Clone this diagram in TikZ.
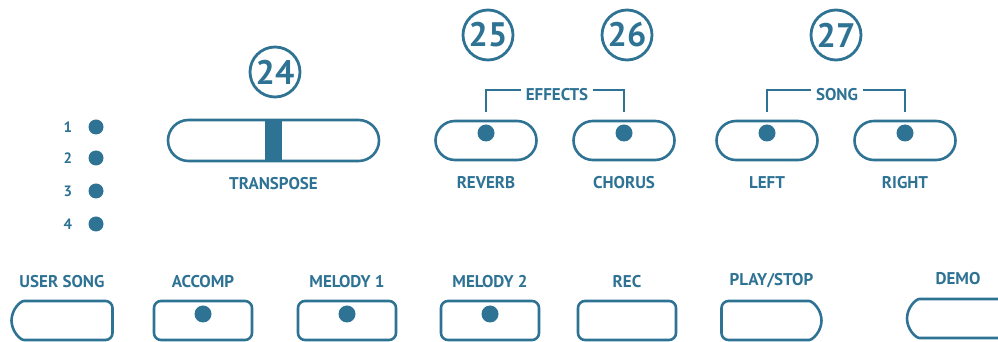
\documentclass[tikz,border=0pt]{standalone}
\usepackage{fontspec}
\setmainfont{PT Sans}
\usepackage{tikz}
\usetikzlibrary{shapes.misc, positioning, calc}
\definecolor{panel}{RGB}{46,114,148}

\begin{document}
\begin{tikzpicture}[x=1pt, y=1pt,
    num/.style={circle, draw=panel, line width=2.8pt, minimum size=50pt, inner sep=0pt, text=panel, font=\bfseries\fontsize{34}{34}\selectfont},
    pill/.style={rounded rectangle, draw=panel, line width=2.6pt, minimum width=101pt, minimum height=39pt, inner sep=0pt},
    keybox/.style={rectangle, rounded corners=7pt, draw=panel, line width=2.6pt, minimum width=98pt, minimum height=39pt, inner sep=0pt},
    led/.style={circle, fill=panel, minimum size=15pt, inner sep=0pt},
    lbl/.style={text=panel, font=\bfseries\fontsize{17}{17}\selectfont, inner sep=2pt},
    ledlbl/.style={text=panel, font=\bfseries\fontsize{15}{15}\selectfont, inner sep=1pt},
    bracket/.style={draw=panel, line width=2.2pt}
]
    \useasboundingbox (0,0) rectangle (998,342);

    % number badges
    \node [num] (n24) at (275,270) {24};
    \node [num] (n25) at (488,307) {25};
    \node [num] (n26) at (627,307) {26};
    \node [num] (n27) at (836,307) {27};

    % LED column
    \foreach \i/\y in {1/215, 2/184, 3/151, 4/118} {
        \node [led] (led\i) at (96,\y) {};
        \node [ledlbl] (ledlbl\i) at (68,\y) {\i};
    }

    % upper buttons
    \node [pill, minimum width=211pt, minimum height=41pt] (transpose) at (273.5,201.5) {};
    \fill [panel] ([xshift=-8.5pt]transpose.north) rectangle ([xshift=8.5pt]transpose.south);
    \node [pill] (reverb) at (486,201.5) {};
    \node [pill] (chorus) at (624,201.5) {};
    \node [pill] (left) at (767,201.5) {};
    \node [pill] (right) at (905,201.5) {};
    \foreach \b in {reverb, chorus, left, right}
        \node [led, minimum size=17pt] (\b dot) at ([yshift=7.5pt]\b.center) {};

    \node [lbl, below=13pt of transpose] (transposelbl) {TRANSPOSE};
    \node [lbl, below=13pt of reverb] (reverblbl) {REVERB};
    \node [lbl, below=13pt of chorus] (choruslbl) {CHORUS};
    \node [lbl, below=13pt of left] (leftlbl) {LEFT};
    \node [lbl, below=13pt of right] (rightlbl) {RIGHT};

    % group brackets
    \node [lbl, inner sep=5pt] (effects) at (557,247) {EFFECTS};
    \node [lbl, inner sep=5pt] (song) at (837,247) {SONG};
    \draw [bracket] ([yshift=8pt]reverb.north) |- ([yshift=5pt]effects.west);
    \draw [bracket] ([yshift=5pt]effects.east) -| ([yshift=8pt]chorus.north);
    \draw [bracket] ([yshift=8pt]left.north) |- ([yshift=5pt]song.west);
    \draw [bracket] ([yshift=5pt]song.east) -| ([yshift=8pt]right.north);

    % lower buttons
    \node [keybox, rounded rectangle, rounded rectangle right arc=none, minimum width=101pt] (usersong) at (62,21.5) {};
    \node [keybox] (accomp) at (203,21.5) {};
    \node [keybox] (melodyA) at (347,21.5) {};
    \node [keybox] (melodyB) at (490,21.5) {};
    \node [keybox] (rec) at (627,21.5) {};
    \node [keybox, rounded rectangle, rounded rectangle left arc=none, minimum width=100pt] (playstop) at (771.5,21.5) {};
    \node [keybox, rounded rectangle, rounded rectangle right arc=none, minimum width=120pt] (demo) at (967,23.5) {};
    \foreach \b in {accomp, melodyA, melodyB}
        \node [led, minimum size=17pt] (\b dot) at ([yshift=6.5pt]\b.center) {};

    \node [lbl, above=10pt of usersong] (usersonglbl) {USER SONG};
    \node [lbl, above=10pt of accomp] (accomplbl) {ACCOMP};
    \node [lbl, above=10pt of melodyA] (melodyAlbl) {MELODY 1};
    \node [lbl, above=10pt of melodyB] (melodyBlbl) {MELODY 2};
    \node [lbl, above=10pt of rec] (reclbl) {REC};
    \node [lbl, above=10pt of playstop] (playstoplbl) {PLAY/STOP};
    \node [lbl] (demolbl) at (958,63) {DEMO};
\end{tikzpicture}
\end{document}
